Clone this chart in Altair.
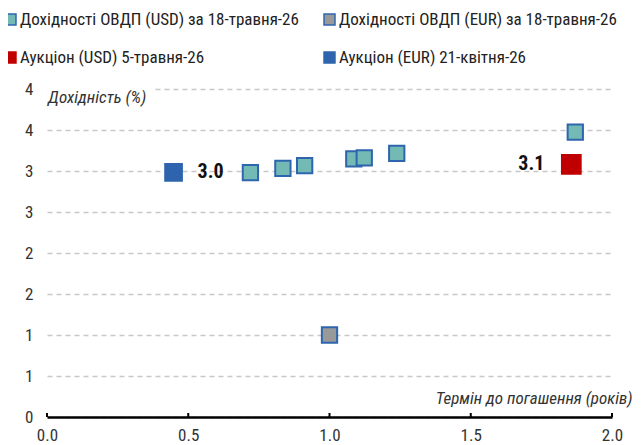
import altair as alt
import pandas as pd

FONT = "Roboto Condensed, Liberation Sans, sans-serif"

# Series names
s_usd = "Дохідності ОВДП (USD) за 18-травня-26"
s_eur = "Дохідності ОВДП (EUR) за 18-травня-26"
s_auc_usd = "Аукціон (USD) 5-травня-26"
s_auc_eur = "Аукціон (EUR) 21-квітня-26"
series_order = [s_usd, s_eur, s_auc_usd, s_auc_eur]

# Data (maturity in years, yield in %)
usd_x = [0.720, 0.835, 0.912, 1.086, 1.123, 1.238, 1.870]
usd_y = [2.979, 3.033, 3.065, 3.147, 3.161, 3.214, 3.474]
eur_x = [1.0]
eur_y = [1.0]
auc_usd_x = [1.856]
auc_usd_y = [3.082]
auc_eur_x = [0.448]
auc_eur_y = [2.984]

x_ticks = [0.0, 0.5, 1.0, 1.5, 2.0]
y_ticks = [0.0, 0.5, 1.0, 1.5, 2.0, 2.5, 3.0, 3.5, 4.0]

fill_colors = ["#74BAB4", "#999999", "#C00000", "#2E64AD"]
stroke_colors = ["#2E65AE", "#2E65AE", "#C00000", "#2E64AD"]


def frame(name, xs, ys):
    return pd.DataFrame({"series": [name] * len(xs), "term": xs, "yield": ys})


df_usd = frame(s_usd, usd_x, usd_y)
df_eur = frame(s_eur, eur_x, eur_y)
df_auc_usd = frame(s_auc_usd, auc_usd_x, auc_usd_y)
df_auc_eur = frame(s_auc_eur, auc_eur_x, auc_eur_y)
df_yields = pd.concat([df_usd, df_eur], ignore_index=True)

x_scale = alt.Scale(domain=[0, 2], nice=False, zero=False)
y_scale = alt.Scale(domain=[0, 4], nice=False, zero=False)

x_enc = alt.X("term:Q", scale=x_scale,
              axis=alt.Axis(values=x_ticks, format=".1f", grid=False, ticks=False,
                            domainColor="black", domainWidth=2.5,
                            labelFont=FONT, labelFontSize=17, labelColor="#333333",
                            labelPadding=10, labelFlush=False, labelOverlap=False,
                            title="Термін до погашення (років)",
                            titleFont=FONT, titleFontSize=17, titleFontStyle="italic",
                            titleFontWeight="normal", titleColor="#333333",
                            titleX=585, titleY=-19, titleAlign="right",
                            titleBaseline="middle", titleAngle=0))
y_enc = alt.Y("yield:Q", scale=y_scale,
              axis=alt.Axis(values=y_ticks, format=".0f", grid=True, ticks=False,
                            domain=False, gridColor="#C8C8C8", gridWidth=1.5,
                            gridDash=[5, 4], labelFlush=False, labelOverlap=False,
                            labelFont=FONT, labelFontSize=17, labelColor="#333333",
                            labelPadding=14, title=None))

legend = alt.Legend(title=None, orient="none", legendX=-45, legendY=-78,
                    direction="horizontal", columns=2, columnPadding=22, rowPadding=20,
                    symbolType="square", symbolSize=120,
                    symbolStrokeWidth=1.5, labelOffset=1,
                    labelFont=FONT, labelFontSize=17,
                    labelColor="#222222", labelLimit=400, padding=0)

fill_enc = alt.Fill("series:N", scale=alt.Scale(domain=series_order, range=fill_colors),
                    legend=legend)
stroke_enc = alt.Stroke("series:N", scale=alt.Scale(domain=series_order, range=stroke_colors),
                        legend=legend)


def squares(data, size):
    return alt.Chart(data).mark_point(shape="square", filled=True, opacity=1,
                                      strokeWidth=2, fillOpacity=1, size=size).encode(
        x=x_enc, y=y_enc, fill=fill_enc, stroke=stroke_enc)


pts_yields = squares(df_yields, 234)
pts_auc_usd = squares(df_auc_usd, 350)
pts_auc_eur = squares(df_auc_eur, 279)

lab_eur = alt.Chart(df_auc_eur).mark_text(
    align="left", baseline="middle", dx=24, fontWeight="bold", fontSize=20,
    font=FONT, color="#111111").encode(
    x=alt.X("term:Q", scale=x_scale), y=alt.Y("yield:Q", scale=y_scale),
    text=alt.Text("yield:Q", format=".1f"))

lab_usd = alt.Chart(df_auc_usd).mark_text(
    align="right", baseline="middle", dx=-27, fontWeight="bold", fontSize=20,
    font=FONT, color="#111111").encode(
    x=alt.X("term:Q", scale=x_scale), y=alt.Y("yield:Q", scale=y_scale),
    text=alt.Text("yield:Q", format=".1f"))

tick_df = pd.DataFrame({"tick": x_ticks})
ticks = alt.Chart(tick_df).mark_rule(color="black", strokeWidth=2).encode(
    x=alt.X("tick:Q", scale=x_scale), y=alt.value(328), y2=alt.value(324))

one = pd.DataFrame({"k": [0]})
mask = alt.Chart(one).mark_rect(color="white").encode(
    x=alt.value(0), x2=alt.value(108), y=alt.value(-3), y2=alt.value(3))
ytitle = alt.Chart(one).mark_text(
    text="Дохідність (%)", align="left", baseline="middle", fontStyle="italic",
    fontSize=17, font=FONT, color="#333333").encode(x=alt.value(1), y=alt.value(9))

chart = alt.layer(mask, ytitle, ticks, pts_yields, pts_auc_usd, pts_auc_eur,
                  lab_eur, lab_usd).properties(
    width=565, height=328,
    autosize=alt.AutoSizeParams(type="none"),
    padding={"left": 39, "top": 81, "right": 24, "bottom": 28},
    background="white",
).configure_view(stroke=None)

chart.save("out.html", embed_options={"renderer": "svg", "actions": False})
